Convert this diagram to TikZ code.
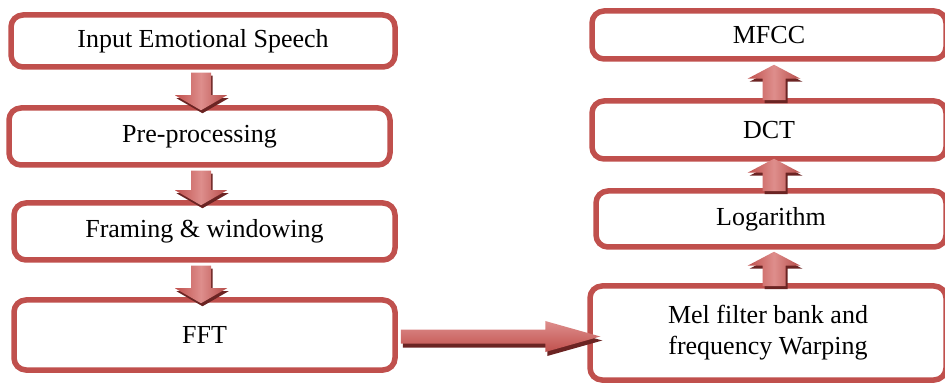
\documentclass[tikz,border=0pt]{standalone}
\usepackage{fontspec}
\setmainfont{Liberation Serif}
\usetikzlibrary{calc}
\definecolor{bord}{HTML}{C0504D}
\definecolor{arrlight}{HTML}{DE8E8C}
\definecolor{arrshadow}{HTML}{6B2423}
\tikzset{
  box/.style={draw=bord, line width=5.5pt, rounded corners=12pt, fill=white,
    inner sep=0pt, align=center, font=\fontsize{26}{31}\selectfont},
  arrbody/.style={left color=bord, right color=bord!95!black, middle color=arrlight},
  arrbodyh/.style={top color=arrlight, bottom color=bord},
  arrshade/.style={fill=arrshadow},
}
% #1 start, #2 tip, #3 canvas offset
\newcommand\downpath[3]{let \p1=($(#1)+#3$), \p2=($(#2)+#3$) in
  (\x1-10pt,\y1) -- (\x1+10pt,\y1) -- (\x1+10pt,\y2+15pt) -- (\x1+26pt,\y2+15pt)
  -- (\x1,\y2) -- (\x1-26pt,\y2+15pt) -- (\x1-10pt,\y2+15pt) -- cycle}
\newcommand\uppath[3]{let \p1=($(#1)+#3$), \p2=($(#2)+#3$) in
  (\x1-11.5pt,\y1) -- (\x1+11.5pt,\y1) -- (\x1+11.5pt,\y2-14pt) -- (\x1+26.5pt,\y2-14pt)
  -- (\x1,\y2) -- (\x1-26.5pt,\y2-14pt) -- (\x1-11.5pt,\y2-14pt) -- cycle}
\newcommand\rightpath[3]{let \p1=($(#1)+#3$), \p2=($(#2)+#3$) in
  (\x1,\y1+7pt) -- (\x2-55pt,\y1+7pt) -- (\x2-55pt,\y1+15.5pt) -- (\x2,\y1)
  -- (\x2-55pt,\y1-15.5pt) -- (\x2-55pt,\y1-7pt) -- (\x1,\y1-7pt) -- cycle}
\newcommand\arrdown[2]{\path[arrshade] \downpath{#1}{#2}{(1.5pt,-3pt)};
  \path[arrbody] \downpath{#1}{#2}{(0pt,0pt)};}
\newcommand\arrup[2]{\path[arrshade] \uppath{#1}{#2}{(2pt,-3pt)};
  \path[arrbody] \uppath{#1}{#2}{(0pt,0pt)};}
\newcommand\arrright[2]{\path[arrshade] \rightpath{#1}{#2}{(2pt,-4pt)};
  \path[arrbodyh] \rightpath{#1}{#2}{(0pt,0pt)};}
\begin{document}
\begin{tikzpicture}[x=1pt, y=-1pt]
\useasboundingbox (0,0) rectangle (945,387);
\clip (0,0) rectangle (945,387);
% left column
\node[box, minimum width=384pt, minimum height=52pt] (in) at (203,41) {Input Emotional Speech};
\node[box, minimum width=381pt, minimum height=57pt] (pre) at (199.5,136.5) {Pre-processing};
\node[box, minimum width=381pt, minimum height=57pt] (frm) at (204.5,231.5) {Framing \& windowing};
\node[box, minimum width=381pt, minimum height=70pt] (fft) at (204.5,335) {FFT};
% right column
\node[box, minimum width=354pt, minimum height=48pt] (mfcc) at (769,35) {MFCC};
\node[box, minimum width=354pt, minimum height=58pt] (dct) at (769,130) {DCT};
\node[box, minimum width=350pt, minimum height=56pt] (log) at (771,219) {Logarithm};
\node[box, minimum width=356pt, minimum height=94pt] (mel) at (768,333) {Mel filter bank and\\frequency Warping};
% arrow axes
\coordinate (axl) at (201,0);
\coordinate (axr) at (774,0);
\coordinate (d1s) at ($(in.south -| axl)+(0,3)$);
\coordinate (d1t) at ($(pre.north -| axl)+(0,5)$);
\coordinate (d2s) at ($(pre.south -| axl)+(0,3)$);
\coordinate (d2t) at ($(frm.north -| axl)+(0,5)$);
\coordinate (d3s) at ($(frm.south -| axl)+(0,3)$);
\coordinate (d3t) at ($(fft.north -| axl)+(0,6)$);
\coordinate (u1s) at ($(mel.north -| axr)+(0,3)$);
\coordinate (u1t) at ($(log.south -| axr)+(0,2)$);
\coordinate (u2s) at ($(log.north -| axr)+(0,3)$);
\coordinate (u2t) at ($(dct.south -| axr)+(0,-3)$);
\coordinate (u3s) at ($(dct.north -| axr)+(0,2)$);
\coordinate (u3t) at ($(mfcc.south -| axr)+(0,3)$);
\coordinate (hs) at ($(fft.east)+(3,1.5)$);
\coordinate (ht) at ($(fft.east -| mel.west)+(13,1.5)$);
\arrdown{d1s}{d1t}
\arrdown{d2s}{d2t}
\arrdown{d3s}{d3t}
\arrup{u1s}{u1t}
\arrup{u2s}{u2t}
\arrup{u3s}{u3t}
\arrright{hs}{ht}
\end{tikzpicture}
\end{document}
